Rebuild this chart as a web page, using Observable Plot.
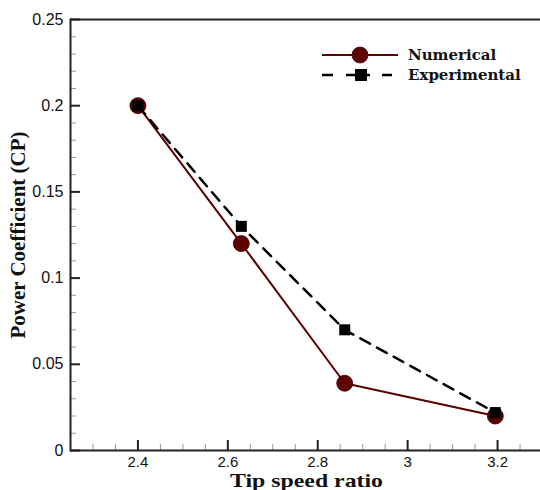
<!DOCTYPE html>
<html><head><meta charset="utf-8">
<script src="https://cdn.jsdelivr.net/npm/d3@7"></script>
<script src="https://cdn.jsdelivr.net/npm/@observablehq/plot@0.6"></script>
<style>
html,body{margin:0;padding:0;background:#fff;overflow:hidden;}
#wrap{position:relative;width:540px;height:490px;overflow:hidden;}
#wrap > svg{max-width:none !important;display:block;}
#legend{position:absolute;left:318px;top:45px;font-family:"DejaVu Serif";font-weight:bold;font-size:15px;color:#111;}
.row{display:flex;align-items:center;height:20px;}
.row span{margin-left:10px;}
</style></head><body><div id="wrap"><div id="legend"></div></div>
<script>
const tsr = [2.4, 2.63, 2.86, 3.195];
const numerical = [0.2, 0.12, 0.039, 0.02];
const experimental = [0.2, 0.13, 0.07, 0.022];
const xTicks = [2.4, 2.6, 2.8, 3, 3.2];
const yTicks = [0, 0.05, 0.1, 0.15, 0.2, 0.25];
const seriesNames = ["Numerical", "Experimental"];
const xTitle = "Tip speed ratio";
const yTitle = "Power Coefficient (CP)";

const numColor = "#5c0000";
const expColor = "#000000";

const xDomain = [2.25, 3.3];
const yDomain = [0, 0.25];

const numData = tsr.map((x, i) => ({x, y: numerical[i]}));
const expData = tsr.map((x, i) => ({x, y: experimental[i]}));

const round = v => Math.round(v * 1000) / 1000;
const xMinor = d3.range(46, 66).map(i => round(i * 0.05)).filter(v => !xTicks.includes(v));
const yMinor = d3.range(1, 26).map(i => round(i * 0.01)).filter(v => !yTicks.some(t => Math.abs(t - v) < 1e-9));

const W = 543, H = 490, mL = 70, mR = 1, mT = 19, mB = 40;
const pxX = (xDomain[1] - xDomain[0]) / (W - mL - mR);
const pxY = (yDomain[1] - yDomain[0]) / (H - mT - mB);

const serif = "'Liberation Serif', 'Times New Roman', serif";

const chart = Plot.plot({
  width: W, height: H,
  marginLeft: mL, marginRight: mR, marginTop: mT, marginBottom: mB,
  style: {fontFamily: "'Liberation Sans', Arial, sans-serif", background: "#fff", overflow: "visible", maxWidth: "none"},
  x: {domain: xDomain},
  y: {domain: yDomain},
  marks: [
    // tick labels
    Plot.axisX({ticks: xTicks, tickSize: 0, tickPadding: 6, fontSize: 15, label: null, tickFormat: d => String(d), color: "#111"}),
    Plot.axisY({ticks: yTicks, tickSize: 0, tickPadding: 7, fontSize: 16, label: null, tickFormat: d => String(d), color: "#111"}),
    // inward ticks
    Plot.ruleX(xTicks, {y1: 0, y2: 10 * pxY, stroke: "#222", strokeWidth: 2}),
    Plot.ruleX(xMinor, {y1: 0, y2: 6 * pxY, stroke: "#999", strokeWidth: 1}),
    Plot.ruleY(yTicks, {x1: xDomain[0], x2: xDomain[0] + 10 * pxX, stroke: "#222", strokeWidth: 2}),
    Plot.ruleY(yMinor, {x1: xDomain[0], x2: xDomain[0] + 6 * pxX, stroke: "#999", strokeWidth: 1}),
    Plot.frame({stroke: "#222", strokeWidth: 2}),
    // data
    Plot.line(numData, {x: "x", y: "y", stroke: numColor, strokeWidth: 2}),
    Plot.dot(numData, {x: "x", y: "y", r: 8, fill: numColor, stroke: "#3a0000", strokeWidth: 0.8}),
    Plot.line(expData, {x: "x", y: "y", stroke: expColor, strokeWidth: 2.5, strokeDasharray: "11,8"}),
    Plot.dot(expData, {x: "x", y: "y", symbol: "square", r: 6.2, fill: expColor, stroke: "none"}),
    // titles
    Plot.text([xTitle], {frameAnchor: "bottom", dy: 30.5, text: d => d, fontFamily: serif, fontWeight: "bold", fontSize: 19, fill: "#111", lineAnchor: "middle", textAnchor: "middle", className: "xtitle"}),
    Plot.text([yTitle], {frameAnchor: "left", dx: -52, rotate: -90, text: d => d, fontFamily: serif, fontWeight: "bold", fontSize: 21, fill: "#111", lineAnchor: "middle", textAnchor: "middle"})
  ]
});
// the reference's title is horizontally stretched
chart.querySelectorAll(".xtitle text").forEach(t => {
  t.setAttribute("textLength", "153");
  t.setAttribute("lengthAdjust", "spacingAndGlyphs");
});
document.getElementById("wrap").prepend(chart);

// legend
const legend = document.getElementById("legend");
const rowNum = document.createElement("div");
rowNum.className = "row";
rowNum.innerHTML = `<svg width="80" height="20"><line x1="4" y1="10" x2="80" y2="10" stroke="${numColor}" stroke-width="2"/><circle cx="42" cy="10" r="8" fill="${numColor}" stroke="#3a0000" stroke-width="0.8"/></svg><span>${seriesNames[0]}</span>`;
const rowExp = document.createElement("div");
rowExp.className = "row";
rowExp.innerHTML = `<svg width="80" height="20"><line x1="4" y1="10" x2="80" y2="10" stroke="${expColor}" stroke-width="2.5" stroke-dasharray="11,13,12,0,12,12,10"/><rect x="37" y="4" width="12" height="12" fill="${expColor}"/></svg><span>${seriesNames[1]}</span>`;
legend.append(rowNum, rowExp);
</script>
</body></html>
